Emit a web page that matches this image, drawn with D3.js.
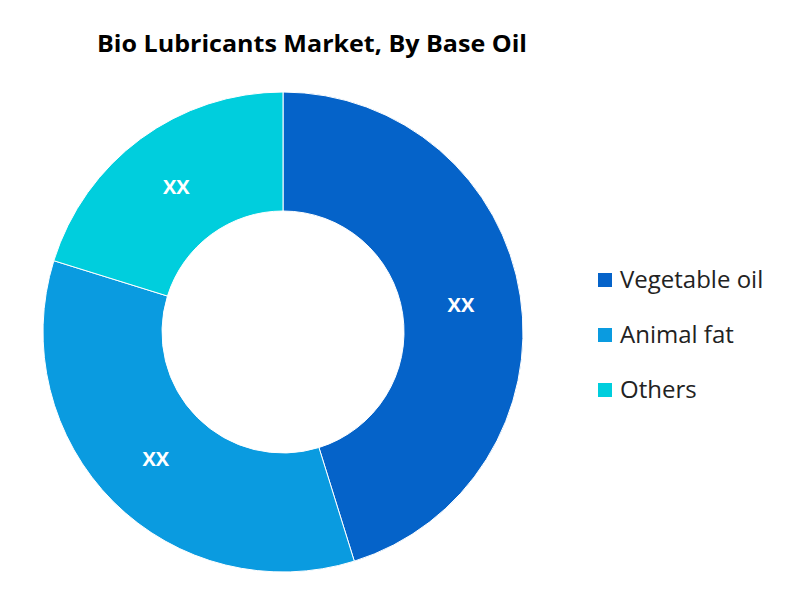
<!DOCTYPE html>
<html><head><meta charset="utf-8">
<script src="https://cdn.jsdelivr.net/npm/d3@7"></script>
<style>body{margin:0;background:#fff}</style>
</head><body>
<svg id="c" width="800" height="605"></svg>
<script>
const categories = ["Vegetable oil","Animal fat","Others"];
const values = [45.2, 34.6, 20.2];
const labels = ["XX","XX","XX"];
const colors = ["#0563C9","#0A9BE0","#00CEDD"];
const svg = d3.select("#c");
svg.append("text").attr("x",312).attr("y",52).attr("text-anchor","middle")
  .attr("font-family","Open Sans, sans-serif").attr("font-weight","bold").attr("font-size",23)
  .attr("textLength",430).attr("lengthAdjust","spacingAndGlyphs")
  .attr("fill","#000").text("Bio Lubricants Market, By Base Oil");
const g = svg.append("g").attr("transform","translate(283,332)");
const pie = d3.pie().sort(null).value(d=>d)(values);
const arc = d3.arc().innerRadius(121).outerRadius(240);
const lab = d3.arc().innerRadius(180).outerRadius(180);
g.selectAll("path").data(pie).join("path").attr("d",arc)
  .attr("fill",(d,i)=>colors[i]).attr("stroke","#fff").attr("stroke-width",1);
g.selectAll("text").data(pie).join("text")
  .attr("transform",d=>`translate(${lab.centroid(d)})`).attr("dy","0.35em")
  .attr("text-anchor","middle").attr("fill","#fff").attr("font-weight","bold")
  .attr("font-family","Open Sans, sans-serif").attr("font-size",20).text((d,i)=>labels[i]);
const lg = svg.append("g");
categories.forEach((c,i)=>{
  const y = 280 + i*55;
  lg.append("rect").attr("x",598).attr("y",y-7).attr("width",14).attr("height",14).attr("fill",colors[i]);
  lg.append("text").attr("x",620).attr("y",y).attr("dy","0.35em")
    .attr("font-family","Open Sans, sans-serif").attr("font-size",24).attr("fill","#222").text(c);
});
</script>
</body></html>
